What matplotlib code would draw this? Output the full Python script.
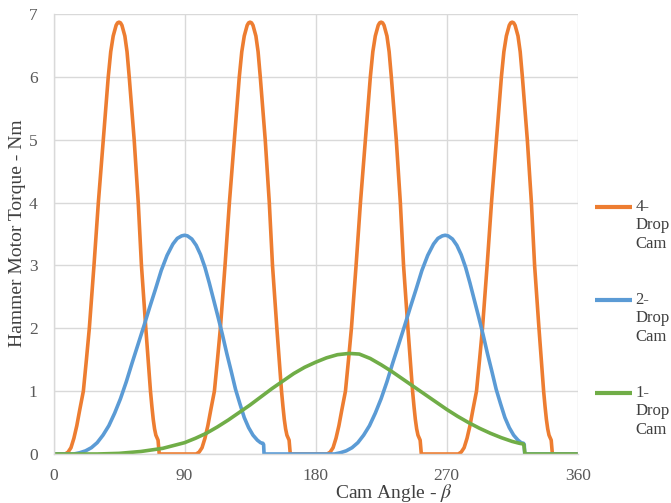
import matplotlib
matplotlib.use("Agg")
import matplotlib.pyplot as plt
from matplotlib.lines import Line2D

# ---- data ----
angle_4drop = [0,
               8, 10, 12, 14, 16, 18, 20.5, 22.6, 24.6, 26.2, 27.8, 29.3, 30.8, 32.5, 34.2, 35.9, 37.6, 39.3, 41, 43, 44, 45, 46, 47, 49, 50.5, 52, 53.7, 55.4, 56.8, 58.2, 59.3, 60.4, 61.9, 63.4, 65, 66.6, 67.6, 68.5, 69.4, 70.3, 71.8, 72.6,
               98, 100, 102, 104, 106, 108, 110.5, 112.6, 114.6, 116.2, 117.8, 119.3, 120.8, 122.5, 124.2, 125.9, 127.6, 129.3, 131, 133, 134, 135, 136, 137, 139, 140.5, 142, 143.7, 145.4, 146.8, 148.2, 149.3, 150.4, 151.9, 153.4, 155, 156.6, 157.6, 158.5, 159.4, 160.3, 161.8, 162.6,
               188, 190, 192, 194, 196, 198, 200.5, 202.6, 204.6, 206.2, 207.8, 209.3, 210.8, 212.5, 214.2, 215.9, 217.6, 219.3, 221, 223, 224, 225, 226, 227, 229, 230.5, 232, 233.7, 235.4, 236.8, 238.2, 239.3, 240.4, 241.9, 243.4, 245, 246.6, 247.6, 248.5, 249.4, 250.3, 251.8, 252.6,
               278, 280, 282, 284, 286, 288, 290.5, 292.6, 294.6, 296.2, 297.8, 299.3, 300.8, 302.5, 304.2, 305.9, 307.6, 309.3, 311, 313, 314, 315, 316, 317, 319, 320.5, 322, 323.7, 325.4, 326.8, 328.2, 329.3, 330.4, 331.9, 333.4, 335, 336.6, 337.6, 338.5, 339.4, 340.3, 341.8, 342.6,
               360]
torque_4drop = [0,
                0, 0.03, 0.1, 0.25, 0.45, 0.7, 1.0, 1.5, 2.0, 2.5, 3.0, 3.5, 4.0, 4.5, 5.0, 5.5, 6.0, 6.4, 6.65, 6.82, 6.86, 6.87, 6.86, 6.82, 6.65, 6.4, 6.0, 5.5, 5.0, 4.5, 4.0, 3.5, 3.0, 2.5, 2.0, 1.5, 1.0, 0.75, 0.55, 0.4, 0.3, 0.22, 0,
                0, 0.03, 0.1, 0.25, 0.45, 0.7, 1.0, 1.5, 2.0, 2.5, 3.0, 3.5, 4.0, 4.5, 5.0, 5.5, 6.0, 6.4, 6.65, 6.82, 6.86, 6.87, 6.86, 6.82, 6.65, 6.4, 6.0, 5.5, 5.0, 4.5, 4.0, 3.5, 3.0, 2.5, 2.0, 1.5, 1.0, 0.75, 0.55, 0.4, 0.3, 0.22, 0,
                0, 0.03, 0.1, 0.25, 0.45, 0.7, 1.0, 1.5, 2.0, 2.5, 3.0, 3.5, 4.0, 4.5, 5.0, 5.5, 6.0, 6.4, 6.65, 6.82, 6.86, 6.87, 6.86, 6.82, 6.65, 6.4, 6.0, 5.5, 5.0, 4.5, 4.0, 3.5, 3.0, 2.5, 2.0, 1.5, 1.0, 0.75, 0.55, 0.4, 0.3, 0.22, 0,
                0, 0.03, 0.1, 0.25, 0.45, 0.7, 1.0, 1.5, 2.0, 2.5, 3.0, 3.5, 4.0, 4.5, 5.0, 5.5, 6.0, 6.4, 6.65, 6.82, 6.86, 6.87, 6.86, 6.82, 6.65, 6.4, 6.0, 5.5, 5.0, 4.5, 4.0, 3.5, 3.0, 2.5, 2.0, 1.5, 1.0, 0.75, 0.55, 0.4, 0.3, 0.22, 0,
                0]

angle_2drop = [0,
               14, 18, 22, 26, 30, 34, 38, 42, 46, 50, 54, 58, 62, 66, 70, 74, 78, 82, 85, 88, 90, 92, 95, 98, 101, 104, 107, 110, 113, 116, 119, 122, 125, 128, 131, 134, 137, 140, 142.2, 143.8, 144.3, 144.6,
               193, 197, 201, 205, 209, 213, 217, 221, 225, 229, 233, 237, 241, 245, 249, 253, 257, 261, 264, 267, 269, 271, 274, 277, 280, 283, 286, 289, 292, 295, 298, 301, 304, 307, 310, 313, 316, 319, 321.2, 322.8, 323.3, 323.6,
               360]
torque_2drop = [0,
                0, 0.02, 0.05, 0.1, 0.18, 0.3, 0.45, 0.65, 0.88, 1.15, 1.45, 1.74, 2.03, 2.33, 2.62, 2.92, 3.16, 3.34, 3.43, 3.47, 3.48, 3.47, 3.42, 3.32, 3.17, 2.97, 2.72, 2.45, 2.18, 1.9, 1.6, 1.32, 1.03, 0.8, 0.58, 0.42, 0.3, 0.22, 0.18, 0.17, 0.15, 0,
                0, 0.02, 0.05, 0.1, 0.18, 0.3, 0.45, 0.65, 0.88, 1.15, 1.45, 1.74, 2.03, 2.33, 2.62, 2.92, 3.16, 3.34, 3.43, 3.47, 3.48, 3.47, 3.42, 3.32, 3.17, 2.97, 2.72, 2.45, 2.18, 1.9, 1.6, 1.32, 1.03, 0.8, 0.58, 0.42, 0.3, 0.22, 0.18, 0.17, 0.15, 0,
                0]

angle_1drop = [0, 30, 45, 60, 75, 90, 97.5, 105, 112.5, 120, 127.5, 135, 142.5, 150, 157.5, 165, 172.5, 180, 187.5, 195, 203,
               210, 217.5, 225, 232.5, 240, 247.5, 255, 262.5, 270, 277.5, 285, 292.5, 300, 307.5, 315, 320, 322.5, 323, 323.8, 360]
torque_1drop = [0, 0, 0.01, 0.04, 0.09, 0.18, 0.25, 0.33, 0.43, 0.54, 0.66, 0.78, 0.91, 1.04, 1.16, 1.28, 1.38, 1.46, 1.53, 1.58, 1.60,
                1.59, 1.52, 1.42, 1.31, 1.19, 1.07, 0.95, 0.83, 0.71, 0.6, 0.5, 0.41, 0.33, 0.26, 0.2, 0.17, 0.16, 0.15, 0, 0]

labels = ["4-\nDrop\nCam", "2-\nDrop\nCam", "1-\nDrop\nCam"]
x_ticks = [0, 90, 180, 270, 360]
y_ticks = [0, 1, 2, 3, 4, 5, 6, 7]

colors = ["#ED7D31", "#5B9BD5", "#70AD47"]

plt.rcParams["font.family"] = ["Liberation Serif", "DejaVu Serif"]
plt.rcParams["mathtext.fontset"] = "stix"

W, H = 671, 503
fig = plt.figure(figsize=(W / 100, H / 100), dpi=100)
ax = fig.add_axes([53.5 / W, (H - 454) / H, 524.2 / W, 440 / H])

lw = 2.6
series = [(angle_4drop, torque_4drop), (angle_2drop, torque_2drop), (angle_1drop, torque_1drop)]
for (xs, ys), c, lab in zip(series, colors, labels):
    ax.plot(xs, ys, color=c, lw=lw, label=lab, solid_joinstyle="round", solid_capstyle="butt")

ax.set_xlim(0, 360)
ax.set_ylim(0, 7)
ax.set_xticks(x_ticks)
ax.set_yticks(y_ticks)
ax.tick_params(length=0, labelsize=12.5, colors="#595959")
ax.tick_params(axis="x", pad=10)
ax.tick_params(axis="y", pad=11.5)
ax.grid(True, color="#D9D9D9", lw=1)
ax.set_axisbelow(True)
for s in ["top", "right"]:
    ax.spines[s].set_visible(False)
for s in ["left", "bottom"]:
    ax.spines[s].set_color("#D9D9D9")
    ax.spines[s].set_linewidth(1)

ax.set_xlabel("Cam Angle - $\\beta$", fontsize=14, color="#404040")
ax.xaxis.set_label_coords((394 - 53.5) / 524.2, (454 - 493.5) / 440)
ax.xaxis.label.set_va("center")
ax.set_ylabel("Hammer Motor Torque - Nm", fontsize=14, color="#404040")
ax.yaxis.set_label_coords((18 - 53.5) / 524.2, (454 - 233) / 440)
ax.yaxis.label.set_va("center")

# legend (entries stacked at the right, handle beside first text line)
entry_y = [207, 300, 393]
for c, lab, yy in zip(colors, labels, entry_y):
    fig.add_artist(Line2D([595 / W, 632 / W], [1 - yy / H, 1 - yy / H],
                          transform=fig.transFigure, color=c, lw=lw + 0.4,
                          solid_capstyle="butt"))
    fig.text(635.5 / W, 1 - (yy - 8) / H, lab, fontsize=12, color="#404040",
             va="top", ha="left", linespacing=1.2)

fig.savefig("out.png", dpi=100)
